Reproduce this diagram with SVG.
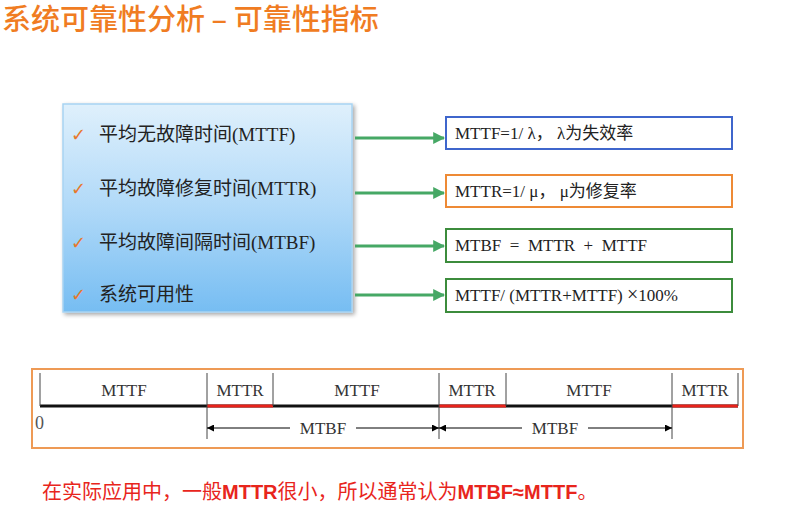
<svg xmlns="http://www.w3.org/2000/svg" width="790" height="509" viewBox="0 0 790 509">
  <defs>
    <linearGradient id="panelFill" x1="0" y1="0" x2="0" y2="1">
      <stop offset="0" stop-color="#dff0fc"/>
      <stop offset="0.5" stop-color="#b0d9f8"/>
      <stop offset="1" stop-color="#76bdf2"/>
    </linearGradient>
    <filter id="shadow" x="-5%" y="-5%" width="115%" height="115%">
      <feGaussianBlur in="SourceAlpha" stdDeviation="2"/>
      <feOffset dx="2" dy="2" result="b"/>
      <feComponentTransfer><feFuncA type="linear" slope="0.35"/></feComponentTransfer>
      <feMerge><feMergeNode/><feMergeNode in="SourceGraphic"/></feMerge>
    </filter>
    <marker id="greenHead" viewBox="0 0 10 10" refX="9" refY="5" markerWidth="4" markerHeight="4" orient="auto">
      <path d="M0,0 L10,5 L0,10 z" fill="#46a865"/>
    </marker>
    <marker id="dimHead" viewBox="0 0 10 10" refX="10" refY="5" markerWidth="14" markerHeight="7" markerUnits="userSpaceOnUse" orient="auto">
      <path d="M0,0 L10,5 L0,10 z" fill="#000"/>
    </marker>
  </defs>
  <style>
    .title { font-family: "Noto Sans CJK SC", sans-serif; font-size: 29px; font-weight: 500; fill: #f07c22; }
    .item { font-family: "Liberation Serif", "Noto Sans CJK SC", serif; font-size: 19px; fill: #222; }
    .check { font-family: "DejaVu Sans", sans-serif; font-size: 18px; fill: #e8782a; }
    .formula { font-family: "Liberation Serif", "Noto Sans CJK SC", serif; font-size: 17px; fill: #222; }
    .conn { stroke: #46a865; stroke-width: 3; fill: none; marker-end: url(#greenHead); }
    .tl { font-family: "Liberation Serif", serif; font-size: 17px; fill: #333; text-anchor: middle; }
    .tick { stroke: #444; stroke-width: 1; }
    .note { font-family: "Noto Sans CJK SC", serif; font-size: 20px; fill: #e8251c; }
    .noteB { font-family: "Liberation Sans", sans-serif; font-weight: bold; }
  </style>

  <rect x="0" y="0" width="790" height="509" fill="#ffffff"/>

  <text class="title" x="2" y="30">系统可靠性分析 – 可靠性指标</text>

  <!-- left panel with the four indicators -->
  <g id="indicators">
    <rect x="63" y="104" width="289" height="208" fill="url(#panelFill)" stroke="#a8d4f2" stroke-width="1.5" filter="url(#shadow)"/>
    <text class="check" x="71" y="141">✓</text>
    <text class="item" x="99" y="141">平均无故障时间(MTTF)</text>
    <text class="check" x="71" y="195">✓</text>
    <text class="item" x="99" y="195">平均故障修复时间(MTTR)</text>
    <text class="check" x="71" y="249">✓</text>
    <text class="item" x="99" y="249">平均故障间隔时间(MTBF)</text>
    <text class="check" x="71" y="301">✓</text>
    <text class="item" x="99" y="301">系统可用性</text>
  </g>

  <g id="connectors">
    <line class="conn" x1="355" y1="138" x2="444" y2="138"/>
    <line class="conn" x1="355" y1="193" x2="444" y2="193"/>
    <line class="conn" x1="355" y1="246" x2="444" y2="246"/>
    <line class="conn" x1="355" y1="295" x2="444" y2="295"/>
  </g>

  <g id="mttf-formula">
    <rect x="446" y="117" width="286" height="32" fill="#fff" stroke="#3f66cc" stroke-width="2"/>
    <text class="formula" x="455" y="139" xml:space="preserve">MTTF=1/ λ， λ为失效率</text>
  </g>
  <g id="mttr-formula">
    <rect x="446" y="175" width="286" height="32" fill="#fff" stroke="#ee8a35" stroke-width="2"/>
    <text class="formula" x="455" y="197" xml:space="preserve">MTTR=1/ μ， μ为修复率</text>
  </g>
  <g id="mtbf-formula">
    <rect x="446" y="229" width="286" height="33" fill="#fff" stroke="#3c8c3c" stroke-width="2"/>
    <text class="formula" x="455" y="251" xml:space="preserve">MTBF  =  MTTR  +  MTTF</text>
  </g>
  <g id="availability-formula">
    <rect x="446" y="279" width="286" height="33" fill="#fff" stroke="#3c8c3c" stroke-width="2"/>
    <text class="formula" x="455" y="301" xml:space="preserve">MTTF/ (MTTR+MTTF) <tspan font-size="20">×</tspan>100%</text>
  </g>

  <!-- timeline of failure / repair cycles -->
  <g id="timeline">
    <rect x="32" y="369" width="711" height="79" fill="#fff" stroke="#ee9a55" stroke-width="2"/>
    <line x1="40" y1="406" x2="738" y2="406" stroke="#111" stroke-width="3"/>
    <line x1="207" y1="406" x2="273" y2="406" stroke="#e8221a" stroke-width="3"/>
    <line x1="439" y1="406" x2="506" y2="406" stroke="#e8221a" stroke-width="3"/>
    <line x1="672" y1="406" x2="738" y2="406" stroke="#e8221a" stroke-width="3"/>
    <line class="tick" x1="40" y1="373" x2="40" y2="406"/>
    <line class="tick" x1="207" y1="373" x2="207" y2="439"/>
    <line class="tick" x1="273" y1="373" x2="273" y2="406"/>
    <line class="tick" x1="439" y1="373" x2="439" y2="439"/>
    <line class="tick" x1="506" y1="373" x2="506" y2="406"/>
    <line class="tick" x1="672" y1="373" x2="672" y2="439"/>
    <line class="tick" x1="738" y1="373" x2="738" y2="406"/>
    <text class="tl" x="124" y="396">MTTF</text>
    <text class="tl" x="240" y="396">MTTR</text>
    <text class="tl" x="357" y="396">MTTF</text>
    <text class="tl" x="472" y="396">MTTR</text>
    <text class="tl" x="589" y="396">MTTF</text>
    <text class="tl" x="705" y="396">MTTR</text>
    <text x="35" y="429" font-family="Liberation Serif, serif" font-size="18" fill="#555">0</text>
    <line x1="290" y1="428" x2="207" y2="428" stroke="#000" stroke-width="1" marker-end="url(#dimHead)"/>
    <line x1="356" y1="428" x2="439" y2="428" stroke="#000" stroke-width="1" marker-end="url(#dimHead)"/>
    <text class="tl" x="323" y="434">MTBF</text>
    <line x1="522" y1="428" x2="439" y2="428" stroke="#000" stroke-width="1" marker-end="url(#dimHead)"/>
    <line x1="588" y1="428" x2="672" y2="428" stroke="#000" stroke-width="1" marker-end="url(#dimHead)"/>
    <text class="tl" x="555" y="434">MTBF</text>
  </g>

  <text class="note" x="42" y="499">在实际应用中，一般<tspan class="noteB">MTTR</tspan>很小，所以通常认为<tspan class="noteB">MTBF≈MTTF</tspan>。</text>
</svg>
